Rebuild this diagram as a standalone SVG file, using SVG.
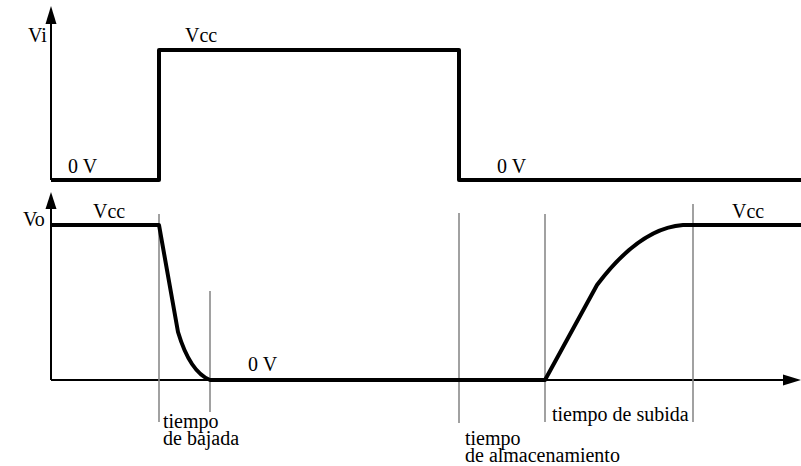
<svg xmlns="http://www.w3.org/2000/svg" width="801" height="466" viewBox="0 0 801 466">
<defs>
<style>
.ax{stroke:#000;stroke-width:2;fill:none}
.wave{stroke:#000;stroke-width:4;fill:none;stroke-linejoin:round}
.guide{stroke:#8a8a8a;stroke-width:1.6}
.head{fill:#000}
text{font-family:'Liberation Serif','Times New Roman','DejaVu Serif',serif;font-size:20px;fill:#000}
</style>
</defs>
<rect width="801" height="466" fill="#fff"/>
<g id="axes">
<line class="ax" x1="51" y1="22" x2="51" y2="180"/>
<polygon class="head" points="51,6 45.5,24 56.5,24"/>
<line class="ax" x1="51" y1="206" x2="51" y2="380"/>
<polygon class="head" points="51,192 45.5,209 56.5,209"/>
<line class="ax" x1="51" y1="380" x2="785" y2="380"/>
<polygon class="head" points="801,380 783,374.5 783,385.5"/>
</g>
<g id="guides">
<line class="guide" x1="159" y1="214" x2="159" y2="422"/>
<line class="guide" x1="210" y1="291" x2="210" y2="412"/>
<line class="guide" x1="459" y1="213" x2="459" y2="423"/>
<line class="guide" x1="545" y1="214" x2="545" y2="422"/>
<line class="guide" x1="693" y1="204" x2="693" y2="422"/>
</g>
<g id="vi-wave">
<polyline class="wave" points="51,180 159,180 159,50 459,50 459,180 801,180"/>
</g>
<g id="vo-wave">
<path class="wave" d="M51,225 H159 L178,332 Q190,372 210,380 H545 L597,285 Q640,228 683,225 H801"/>
</g>
<g id="labels" font-family="Liberation Serif, Times New Roman, serif" font-size="20">
<text x="28" y="42">Vi</text>
<text x="185" y="42">Vcc</text>
<text x="68" y="173">0 V</text>
<text x="497" y="173">0 V</text>
<text x="23" y="226">Vo</text>
<text x="93" y="218">Vcc</text>
<text x="732" y="218">Vcc</text>
<text x="248" y="371">0 V</text>
<text x="163" y="428">tiempo</text>
<text x="163" y="445">de bajada</text>
<text x="552" y="421">tiempo de subida</text>
<text x="465" y="445">tiempo</text>
<text x="465" y="462">de almacenamiento</text>
</g>
</svg>
